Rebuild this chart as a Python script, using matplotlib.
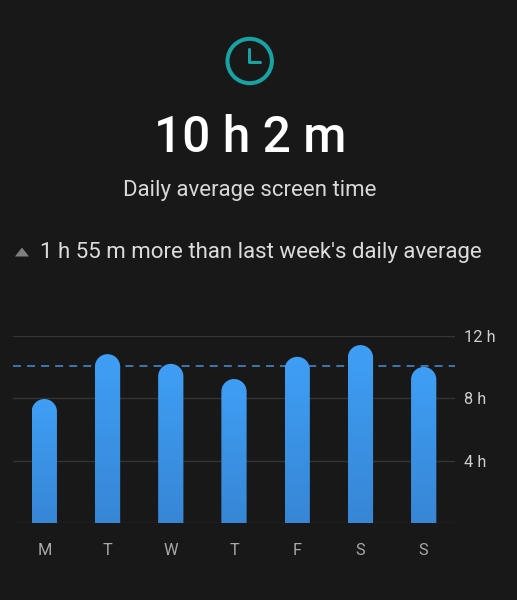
import numpy as np
import matplotlib
matplotlib.use('Agg')
import matplotlib.pyplot as plt
from matplotlib.colors import LinearSegmentedColormap
from matplotlib.path import Path
from matplotlib.patches import PathPatch, Circle, Polygon

days = ['M', 'T', 'W', 'T', 'F', 'S', 'S']
hours = [7.95, 10.82, 10.2, 9.23, 10.65, 11.4, 10.0]
average = 10.03
y_ticks = [0, 4, 8, 12]
y_labels = ['', '4 h', '8 h', '12 h']

BG = '#181818'
W, H = 517, 600
plt.rcParams['font.family'] = ['Roboto', 'DejaVu Sans']

fig = plt.figure(figsize=(W / 100, H / 100), dpi=100, facecolor=BG)

# 整张图的像素坐标层，放图标和文字
top = fig.add_axes([0, 0, 1, 1])
top.set_xlim(0, W)
top.set_ylim(H, 0)
top.axis('off')

# 时钟图标
teal = '#17a2a4'
top.add_patch(Circle((249.7, 61), 22.2, fill=False, ec=teal, lw=2.9))
top.plot([248.5, 248.5, 260], [48.5, 61.5, 61.5], color=teal, lw=2.2,
         solid_joinstyle='round', solid_capstyle='round')

top.text(249.7, 151.7, '10 h 2 m', color='#ffffff', fontsize=35.7, fontweight='medium',
         ha='center', va='baseline')
top.text(250, 195.7, 'Daily average screen time', color='#d8d8d8', fontsize=16,
         ha='center', va='baseline')
top.text(39.5, 257.7, "1 h 55 m more than last week's daily average", color='#dcdcdc',
         fontsize=16, ha='left', va='baseline')
top.add_patch(Polygon([[15, 256.5], [29, 256.5], [22, 247.5]], fc='#808080', ec='none'))

# 柱状图
ax = fig.add_axes([12.7 / W, 1 - 523.3 / H, (455.3 - 12.7) / W, (523.3 - 335.7) / H])
ax.set_facecolor('none')
ax.set_xlim(-0.5, 6.5)
ax.set_ylim(0, 12)
for s in ax.spines.values():
    s.set_visible(False)

ax.set_yticks(y_ticks)
ax.set_yticklabels(y_labels, color='#cfcfcf', fontsize=11.8)
ax.yaxis.tick_right()
ax.set_xticks(range(len(days)))
ax.set_xticklabels(days, color='#a8a8a8', fontsize=11.8)
ax.tick_params(axis='both', length=0)
ax.tick_params(axis='y', pad=6)
ax.tick_params(axis='x', pad=14.5)
ax.grid(axis='y', color='#343434', lw=1.0, zorder=0)
ax.set_axisbelow(True)
for lab in ax.get_yticklabels():
    lab.set_va('center_baseline')

ax.axhline(average, color='#4a8fd6', lw=1.1, dashes=(5.2, 4.0), zorder=1)

# 顶部圆角 + 上下渐变的柱子
cmap = LinearSegmentedColormap.from_list('bar', ['#3f9ff5', '#3786d6'])
grad = np.linspace(0, 1, 256).reshape(-1, 1)
half = 12.65 / 63.3
ry = 12.65 * 12 / (523.3 - 335.7)
for i, v in enumerate(hours):
    t = np.linspace(np.pi, 0, 30)
    xs = np.r_[i - half, i + half * np.cos(t), i + half, i - half]
    ys = np.r_[0, v - ry + ry * np.sin(t), 0, 0]
    clip = PathPatch(Path(np.column_stack([xs, ys])), fc='none', ec='none', transform=ax.transData)
    ax.add_patch(clip)
    im = ax.imshow(grad, extent=[i - half, i + half, 0, v], cmap=cmap, aspect='auto',
                   origin='upper', zorder=2)
    im.set_clip_path(clip)
ax.set_xlim(-0.5, 6.5)
ax.set_ylim(0, 12)

fig.savefig('out.png', dpi=100, facecolor=BG)
